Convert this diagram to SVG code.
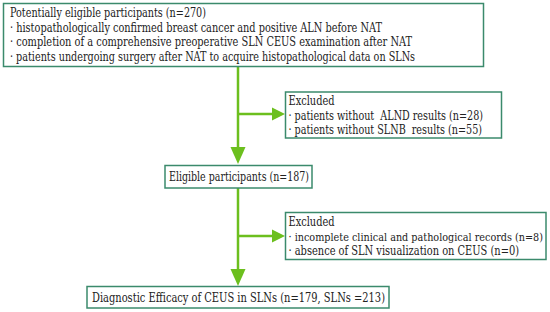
<svg xmlns="http://www.w3.org/2000/svg" width="550" height="312" viewBox="0 0 550 312">
<style>
.box{fill:#fff;stroke:#3b8a6c;stroke-width:1.5}
text{font-family:"DejaVu Serif Condensed","DejaVu Serif",serif;font-stretch:condensed;font-size:12px;fill:#222;white-space:pre}
.c{stroke:#6cbf1e;stroke-width:2.5;fill:none}
.h{fill:#6cbf1e}
</style>
<rect width="550" height="312" fill="#fff"/>
<g id="connectors">
<line class="c" x1="238" y1="67" x2="238" y2="148"/>
<line class="c" x1="238" y1="114" x2="274" y2="114"/>
<polygon class="h" points="230.5,147 245.5,147 238,164"/>
<polygon class="h" points="272,107.5 272,120.5 285,114"/>
<line class="c" x1="238" y1="188" x2="238" y2="270"/>
<line class="c" x1="238" y1="236" x2="274" y2="236"/>
<polygon class="h" points="230.5,269 245.5,269 238,286"/>
<polygon class="h" points="272,229.5 272,242.5 285,236"/>
</g>
<g id="node-potential">
<rect class="box" x="3.5" y="3.5" width="480" height="63"/>
<text x="10" y="17" textLength="196" lengthAdjust="spacingAndGlyphs">Potentially eligible participants (n=270)</text>
<text x="10" y="31.5" textLength="372" lengthAdjust="spacingAndGlyphs">· histopathologically confirmed breast cancer and positive ALN before NAT</text>
<text x="10" y="46" textLength="402" lengthAdjust="spacingAndGlyphs">· completion of a comprehensive preoperative SLN CEUS examination after NAT</text>
<text x="10" y="60.5" textLength="405" lengthAdjust="spacingAndGlyphs">· patients undergoing surgery after NAT to acquire histopathological data on SLNs</text>
</g>
<g id="node-excluded1">
<rect class="box" x="285.5" y="92" width="216" height="46"/>
<text x="288.5" y="105" textLength="46" lengthAdjust="spacingAndGlyphs">Excluded</text>
<text x="288.5" y="119.5" textLength="194.5" lengthAdjust="spacingAndGlyphs">· patients without  ALND results (n=28)</text>
<text x="288.5" y="134" textLength="193.5" lengthAdjust="spacingAndGlyphs">· patients without SLNB  results (n=55)</text>
</g>
<g id="node-eligible">
<rect class="box" x="165" y="165.5" width="147" height="22.5"/>
<text x="169" y="181" textLength="140" lengthAdjust="spacingAndGlyphs">Eligible participants (n=187)</text>
</g>
<g id="node-excluded2">
<rect class="box" x="285.5" y="212.5" width="260.5" height="47"/>
<text x="288.5" y="226" textLength="46" lengthAdjust="spacingAndGlyphs">Excluded</text>
<text x="288.5" y="240.5" textLength="254.5" lengthAdjust="spacingAndGlyphs" style="font-size:10.7px">· incomplete clinical and pathological records (n=8)</text>
<text x="288.5" y="255" textLength="230.5" lengthAdjust="spacingAndGlyphs">· absence of SLN visualization on CEUS (n=0)</text>
</g>
<g id="node-final">
<rect class="box" x="87" y="286.5" width="302" height="21.5"/>
<text x="92" y="302" textLength="293" lengthAdjust="spacingAndGlyphs">Diagnostic Efficacy of CEUS in SLNs (n=179, SLNs =213)</text>
</g>
</svg>
